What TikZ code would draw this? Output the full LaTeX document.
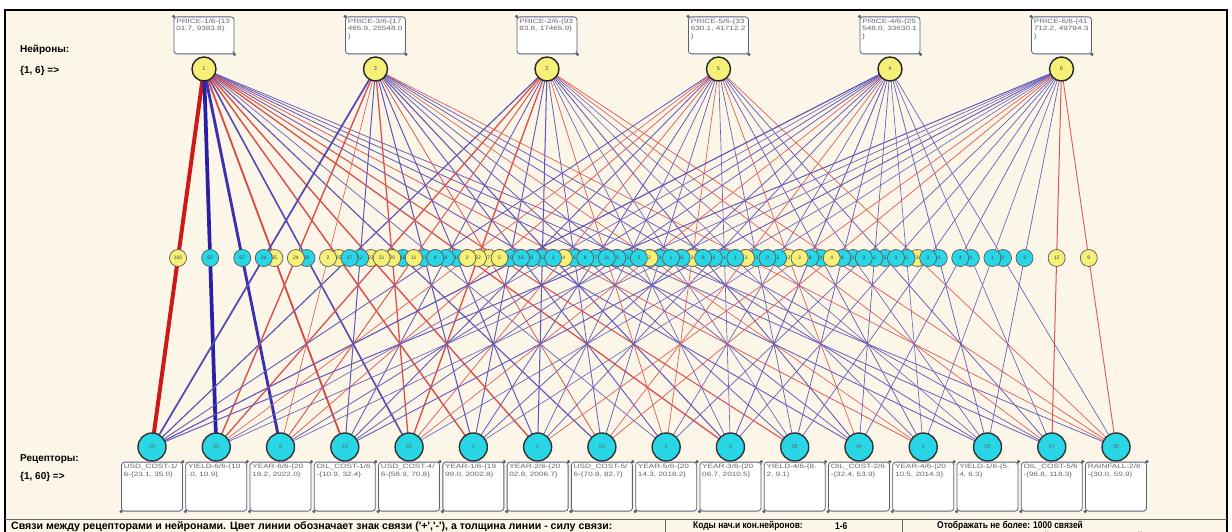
\documentclass[tikz,border=0pt]{standalone}
\usepackage{fontspec}
\setmainfont{Liberation Sans}
\newfontfamily\narrowsf[FakeStretch=0.86]{Liberation Sans}
\newfontfamily\widesf[FakeStretch=1.32]{Liberation Sans}
\usetikzlibrary{positioning}

\definecolor{paper}{RGB}{252,246,232}
\definecolor{wtplus}{RGB}{246,240,120}
\definecolor{wtminus}{RGB}{40,214,230}
\definecolor{boxline}{RGB}{90,96,120}
\definecolor{lnplus}{RGB}{205,25,25}
\definecolor{lnminus}{RGB}{35,25,165}

\pgfdeclarelayer{back}
\pgfdeclarelayer{links}
\pgfsetlayers{back,links,main}

% neuron -> receptor links: neuron/receptor/sign/strength
\def\links{%
  n1/r49/plus/100, n1/r60/minus/92, n1/r6/minus/67, n1/r43/plus/35, n1/r52/minus/30, n1/r1/plus/25,
  n1/r2/plus/23, n1/r53/minus/16, n1/r5/minus/3, n1/r3/plus/21, n1/r58/plus/14, n1/r44/minus/9,
  n1/r4/plus/6, n1/r55/minus/7, n1/r47/minus/6, n1/r38/minus/5,
  n3/r49/minus/34, n3/r60/plus/24, n3/r6/plus/2, n3/r43/minus/12, n3/r52/plus/20, n3/r1/minus/13,
  n3/r2/minus/11, n3/r53/plus/7, n3/r5/minus/10, n3/r3/minus/14, n3/r58/minus/6, n3/r44/minus/5,
  n3/r4/plus/2, n3/r55/minus/6, n3/r47/minus/4, n3/r38/plus/3,
  n2/r49/minus/17, n2/r60/plus/21, n2/r6/plus/11, n2/r43/minus/8, n2/r52/plus/22, n2/r1/minus/10,
  n2/r2/minus/13, n2/r53/minus/6, n2/r5/plus/4, n2/r3/minus/2, n2/r58/minus/1, n2/r44/minus/9,
  n2/r4/minus/1, n2/r55/minus/0, n2/r47/plus/3, n2/r38/plus/4,
  n5/r49/minus/8, n5/r60/plus/2, n5/r6/plus/5, n5/r43/minus/9, n5/r52/plus/4, n5/r1/minus/7,
  n5/r2/minus/3, n5/r53/minus/4, n5/r5/plus/3, n5/r3/minus/1, n5/r58/minus/3, n5/r44/plus/3,
  n5/r4/minus/4, n5/r55/minus/2, n5/r47/minus/5, n5/r38/plus/3,
  n4/r49/minus/16, n4/r60/minus/1, n4/r6/minus/6, n4/r43/minus/5, n4/r52/plus/2, n4/r1/minus/6,
  n4/r2/minus/4, n4/r53/plus/3, n4/r5/minus/2, n4/r3/minus/8, n4/r58/minus/4, n4/r44/minus/3,
  n4/r4/minus/0, n4/r55/minus/4, n4/r47/minus/1, n4/r38/minus/2,
  n6/r49/minus/11, n6/r60/minus/2, n6/r6/minus/1, n6/r43/minus/9, n6/r52/minus/1, n6/r1/minus/0,
  n6/r2/plus/3, n6/r53/plus/4, n6/r5/minus/3, n6/r3/minus/3, n6/r58/minus/3, n6/r44/minus/4,
  n6/r4/minus/1, n6/r55/minus/3, n6/r47/plus/12, n6/r38/plus/9}

\begin{document}
\begin{tikzpicture}[x=1pt,y=-1pt,font=\fontsize{5.5}{7}\selectfont,
  neuron/.style={circle,draw=black!85,line width=1.4pt,fill=wtplus,minimum size=24pt,inner sep=0pt,text=black!70},
  recep/.style={circle,draw=black!80,line width=1.4pt,fill=wtminus,minimum size=28pt,inner sep=0pt,text=black!60},
  nbox/.style={draw=boxline,line width=0.8pt,fill=white,rounded corners=3pt,minimum width=60pt,minimum height=37pt,inner sep=0pt},
  rbox/.style={nbox,minimum width=61pt,minimum height=49pt},
  boxtext/.style={anchor=north west,align=left,inner sep=2.5pt,text=black!60,font=\widesf\fontsize{6.2}{7.3}\selectfont},
  wt/.style={circle,draw=black!65,line width=0.7pt,fill=wt#1,minimum size=17pt,inner sep=0pt,text=black!75,font=\fontsize{5}{6}\selectfont},
  hdr/.style={anchor=west,inner sep=0pt,font=\bfseries\fontsize{10}{12}\selectfont},
  foot/.style={anchor=west,inner sep=0pt,font=\narrowsf\bfseries\fontsize{9.8}{11}\selectfont}]
  \useasboundingbox (0,0) rectangle (1232,532);
  \begin{pgfonlayer}{back}
    \fill[paper] (5,10) rectangle (1227,545);
    \draw[line width=2pt] (5,10) rectangle (1227,545);
    \draw[black!60,line width=0.8pt] (5,519) -- (1227,519) (665,519) -- (665,545) (902,519) -- (902,545);
  \end{pgfonlayer}

  \node[hdr] (nlbl) at (20,50) {Нейроны:};
  \node[hdr] (nrng) at (20,71) {\{1, 6\} =>};
  \node[hdr] (rlbl) at (20,459) {Рецепторы:};
  \node[hdr] (rrng) at (20,477) {\{1, 60\} =>};

  % neurons and their boxes
  \foreach \c/\x in {1/204,3/375.5,2/547,5/718.5,4/890,6/1061.5}
    \node[neuron] (n\c) at (\x,69) {\c};
  \foreach \c/\txt in {1/{PRICE-1/6-\{13\\01.7, 9383.8\}},3/{PRICE-3/6-\{17\\465.9, 25548.0\\\}},
      2/{PRICE-2/6-\{93\\83.8, 17465.9\}},5/{PRICE-5/6-\{33\\630.1, 41712.2\\\}},
      4/{PRICE-4/6-\{25\\548.0, 33630.1\\\}},6/{PRICE-6/6-\{41\\712.2, 49794.3\\\}}}
  {
    \node[nbox,above=2pt of n\c,label={[boxtext]north west:{\txt}}] (nb\c) {};
    \fill[boxline] (nb\c.north west) circle (1.8) (nb\c.south east) circle (1.8);
  }

  % receptors and their boxes
  \foreach \c [count=\i from 0] in {49,60,6,43,52,1,2,53,5,3,58,44,4,55,47,38}
    \node[recep] (r\c) at ({152+64.27*\i},447) {\c};
  \foreach \c/\txt in {49/{USD\_COST-1/\\6-\{23.1, 35.0\}},60/{YIELD-6/6-\{10\\.0, 10.9\}},
      6/{YEAR-6/6-\{20\\18.2, 2022.0\}},43/{OIL\_COST-1/6\\-\{10.9, 32.4\}},
      52/{USD\_COST-4/\\6-\{58.9, 70.8\}},1/{YEAR-1/6-\{19\\99.0, 2002.8\}},
      2/{YEAR-2/6-\{20\\02.8, 2006.7\}},53/{USD\_COST-5/\\6-\{70.8, 82.7\}},
      5/{YEAR-5/6-\{20\\14.3, 2018.2\}},3/{YEAR-3/6-\{20\\06.7, 2010.5\}},
      58/{YIELD-4/6-\{8.\\2, 9.1\}},44/{OIL\_COST-2/6\\-\{32.4, 53.9\}},
      4/{YEAR-4/6-\{20\\10.5, 2014.3\}},55/{YIELD-1/6-\{5.\\4, 6.3\}},
      47/{OIL\_COST-5/6\\-\{96.8, 118.3\}},38/{RAINFALL-2/6\\-\{30.0, 59.9\}}}
  {
    \node[rbox,below=0pt of r\c,label={[boxtext]north west:{\txt}}] (rb\c) {};
    \fill[boxline] (rb\c.north east) circle (1.8) (rb\c.south west) circle (1.8);
  }

  % links, width and tint by strength
  \begin{pgfonlayer}{links}
    \foreach \a/\b/\s/\v in \links {
      \pgfmathsetmacro\lw{0.6+0.034*\v}
      \pgfmathtruncatemacro\pc{68+0.32*\v}
      \draw[line width=\lw pt,draw=ln\s!\pc!paper] (\a.center) -- (\b.center);
    }
  \end{pgfonlayer}
  \foreach \a/\b/\s/\v in \links
    \path (\a.center) -- (\b.center) node[midway,wt=\s] (w\a\b) {\v};

  % legend panel
  \node[hdr,font=\bfseries\fontsize{10.6}{12}\selectfont] (legend) at (11,527)
    {Связи между рецепторами и нейронами. Цвет линии обозначает знак связи (\textquotesingle+\textquotesingle,\textquotesingle-\textquotesingle), а толщина линии - силу связи:};
  \node[foot] (codesn) at (693,526) {Коды нач.и кон.нейронов:};
  \node[foot] (codesnv) at (835,526) {1-6};
  \node[foot] (codesr) at (693,537) {Коды нач.и кон.рецепторов:};
  \node[foot] (codesrv) at (835,537) {1-60};
  \node[foot] (maxn) at (937,526) {Отображать не более: 1000 связей};
  \node[foot] (minw) at (937,537) {Отображать связи с силой более: 0.000\% от 1-ой связи};
\end{tikzpicture}
\end{document}
